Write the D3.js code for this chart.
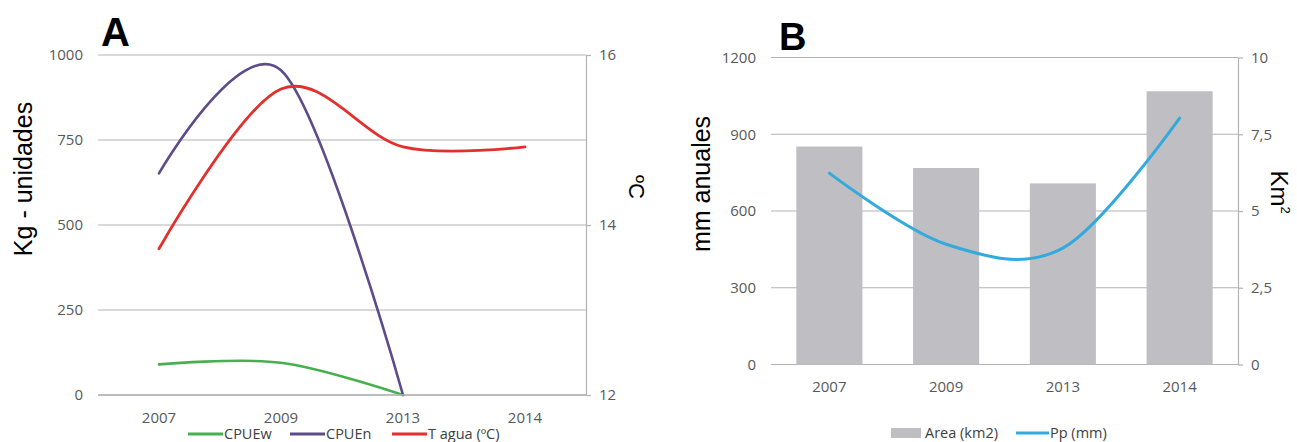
<!DOCTYPE html>
<html>
<head>
<meta charset="utf-8">
<script src="https://cdn.jsdelivr.net/npm/d3@7"></script>
<style>
  body { margin: 0; background: #fff; }
  .tick text { font-family: "Open Sans", sans-serif; font-size: 15px; fill: #595959; }
  .title { font-family: "Liberation Sans", Arial, sans-serif; fill: #000; }
  .legend { font-family: "Open Sans", sans-serif; font-size: 14.5px; fill: #404040; }
</style>
</head>
<body>
<div id="chart"></div>
<script>
// data
var years = ["2007", "2009", "2013", "2014"];

// panel A
var cpueW = [90, 95, 0, null];
var cpueN = [652, 955, 0, null];
var tAgua = [13.72, 15.6, 14.92, 14.92];
var ticksA = [0, 250, 500, 750, 1000];
var ticksTemp = [12, 14, 16];

// panel B
var areaKm2 = [7.1, 6.4, 5.9, 8.9];
var ppMm = [748, 470, 455, 963];
var ticksMm = [0, 300, 600, 900, 1200];
var ticksKm = [0, 2.5, 5, 7.5, 10];

var svgWidth = 1297;
var svgHeight = 442;
var gridColor = "#b3b3b3";

var svg = d3.select("#chart")
  .append("svg")
  .attr("width", svgWidth)
  .attr("height", svgHeight);

var plain = d => String(d).replace(".", ",");

// ---------- Panel A ----------
var xA = d3.scaleBand().domain(years).range([98, 586]);
var yA = d3.scaleLinear().domain([0, 1000]).range([395, 55]);
var yTemp = d3.scaleLinear().domain([12, 16]).range([395, 55]);

var gA = svg.append("g");

// gridlines
gA.selectAll("line.grid")
  .data(ticksA)
  .enter()
  .append("line")
  .attr("x1", 98)
  .attr("x2", 586)
  .attr("y1", d => yA(d))
  .attr("y2", d => yA(d))
  .attr("stroke", gridColor)
  .attr("stroke-width", 1.2);

// left axis labels
var leftA = gA.append("g")
  .attr("transform", "translate(83,0)")
  .call(d3.axisLeft(yA).tickValues(ticksA).tickFormat(plain).tickSize(0).tickPadding(0));
leftA.select(".domain").remove();

// right axis
gA.append("g")
  .attr("transform", "translate(586,0)")
  .call(d3.axisRight(yTemp).tickValues(ticksTemp).tickFormat(plain).tickSizeInner(5).tickSizeOuter(0).tickPadding(8))
  .call(g => g.selectAll("path, line").attr("stroke", gridColor).attr("stroke-width", 1.2));

// x labels
var xAxisA = gA.append("g")
  .attr("transform", "translate(0,412)")
  .call(d3.axisBottom(xA).tickSize(0).tickPadding(0));
xAxisA.select(".domain").remove();

function addLine(g, xs, ys, values, color, width) {
  var line = d3.line()
    .defined(d => d != null)
    .x((d, i) => xs(years[i]) + xs.bandwidth() / 2)
    .y(d => ys(d))
    .curve(d3.curveCardinal.tension(0));
  g.append("path")
    .datum(values)
    .attr("d", line)
    .attr("fill", "none")
    .attr("stroke", color)
    .attr("stroke-width", width)
    .attr("stroke-linecap", "round");
}

addLine(gA, xA, yA, cpueW, "#46b04f", 2.6);
addLine(gA, xA, yA, cpueN, "#5c4d8a", 2.6);
addLine(gA, xA, yTemp, tAgua, "#e2302c", 2.8);

// baseline over the lines
gA.append("line")
  .attr("x1", 98).attr("x2", 586)
  .attr("y1", yA(0)).attr("y2", yA(0))
  .attr("stroke", gridColor)
  .attr("stroke-width", 1.5);

gA.append("text")
  .attr("class", "title")
  .attr("x", 101)
  .attr("y", 46)
  .style("font-size", "40px")
  .style("font-weight", "bold")
  .text("A");

gA.append("text")
  .attr("class", "title")
  .attr("transform", "translate(32,179) rotate(-90)")
  .attr("text-anchor", "middle")
  .style("font-size", "25px")
  .text("Kg - unidades");

gA.append("text")
  .attr("class", "title")
  .attr("transform", "translate(629,187) rotate(90)")
  .attr("text-anchor", "middle")
  .style("font-size", "22px")
  .text("ºC");

// legend A
var legA = [
  { name: "CPUEw", color: "#46b04f", x: 188 },
  { name: "CPUEn", color: "#5c4d8a", x: 290 },
  { name: "T agua (ºC)", color: "#e2302c", x: 392 }
];
var lgA = gA.selectAll("g.leg")
  .data(legA)
  .enter()
  .append("g")
  .attr("transform", d => `translate(${d.x},434)`);
lgA.append("line")
  .attr("x1", 0).attr("x2", 35)
  .attr("stroke", d => d.color)
  .attr("stroke-width", 3);
lgA.append("text")
  .attr("class", "legend")
  .attr("x", 36)
  .attr("y", 5)
  .text(d => d.name);

// ---------- Panel B ----------
var xB = d3.scaleBand().domain(years).range([771, 1238]).paddingInner(0.434).paddingOuter(0.217);
var yMm = d3.scaleLinear().domain([0, 1200]).range([364.5, 57.5]);
var yKm = d3.scaleLinear().domain([0, 10]).range([364.5, 57.5]);

var gB = svg.append("g");

gB.selectAll("line.grid")
  .data(ticksMm)
  .enter()
  .append("line")
  .attr("x1", 771)
  .attr("x2", 1238)
  .attr("y1", d => yMm(d))
  .attr("y2", d => yMm(d))
  .attr("stroke", gridColor)
  .attr("stroke-width", 1.2);

var leftB = gB.append("g")
  .attr("transform", "translate(756,0)")
  .call(d3.axisLeft(yMm).tickValues(ticksMm).tickFormat(plain).tickSize(0).tickPadding(0));
leftB.select(".domain").remove();

gB.append("g")
  .attr("transform", "translate(1238,0)")
  .call(d3.axisRight(yKm).tickValues(ticksKm).tickFormat(plain).tickSizeInner(5).tickSizeOuter(0).tickPadding(8))
  .call(g => g.selectAll("path, line").attr("stroke", gridColor).attr("stroke-width", 1.2));

var xAxisB = gB.append("g")
  .attr("transform", "translate(0,381)")
  .call(d3.axisBottom(xB).tickSize(0).tickPadding(0));
xAxisB.select(".domain").remove();

gB.selectAll("rect.bar")
  .data(areaKm2)
  .enter()
  .append("rect")
  .attr("x", (d, i) => xB(years[i]))
  .attr("width", xB.bandwidth())
  .attr("y", d => yKm(d))
  .attr("height", d => yKm(0) - yKm(d))
  .attr("fill", "#bfbfc3");

addLine(gB, xB, yMm, ppMm, "#33a9dc", 3);

gB.append("text")
  .attr("class", "title")
  .attr("x", 779)
  .attr("y", 50)
  .style("font-size", "38px")
  .style("font-weight", "bold")
  .text("B");

gB.append("text")
  .attr("class", "title")
  .attr("transform", "translate(710,184) rotate(-90)")
  .attr("text-anchor", "middle")
  .style("font-size", "25px")
  .text("mm anuales");

var km = gB.append("text")
  .attr("class", "title")
  .attr("transform", "translate(1271,192) rotate(90)")
  .attr("text-anchor", "middle")
  .style("font-size", "24px")
  .text("Km");
km.append("tspan")
  .attr("dy", -10)
  .style("font-size", "13px")
  .text("2");

// legend B
gB.append("rect")
  .attr("x", 891).attr("y", 428)
  .attr("width", 30).attr("height", 10)
  .attr("fill", "#bfbfc3");
gB.append("text")
  .attr("class", "legend")
  .attr("x", 925).attr("y", 438)
  .text("Area (km2)");
gB.append("line")
  .attr("x1", 1016).attr("x2", 1049)
  .attr("y1", 433).attr("y2", 433)
  .attr("stroke", "#33a9dc")
  .attr("stroke-width", 3);
gB.append("text")
  .attr("class", "legend")
  .attr("x", 1050).attr("y", 438)
  .text("Pp (mm)");
</script>
</body>
</html>
